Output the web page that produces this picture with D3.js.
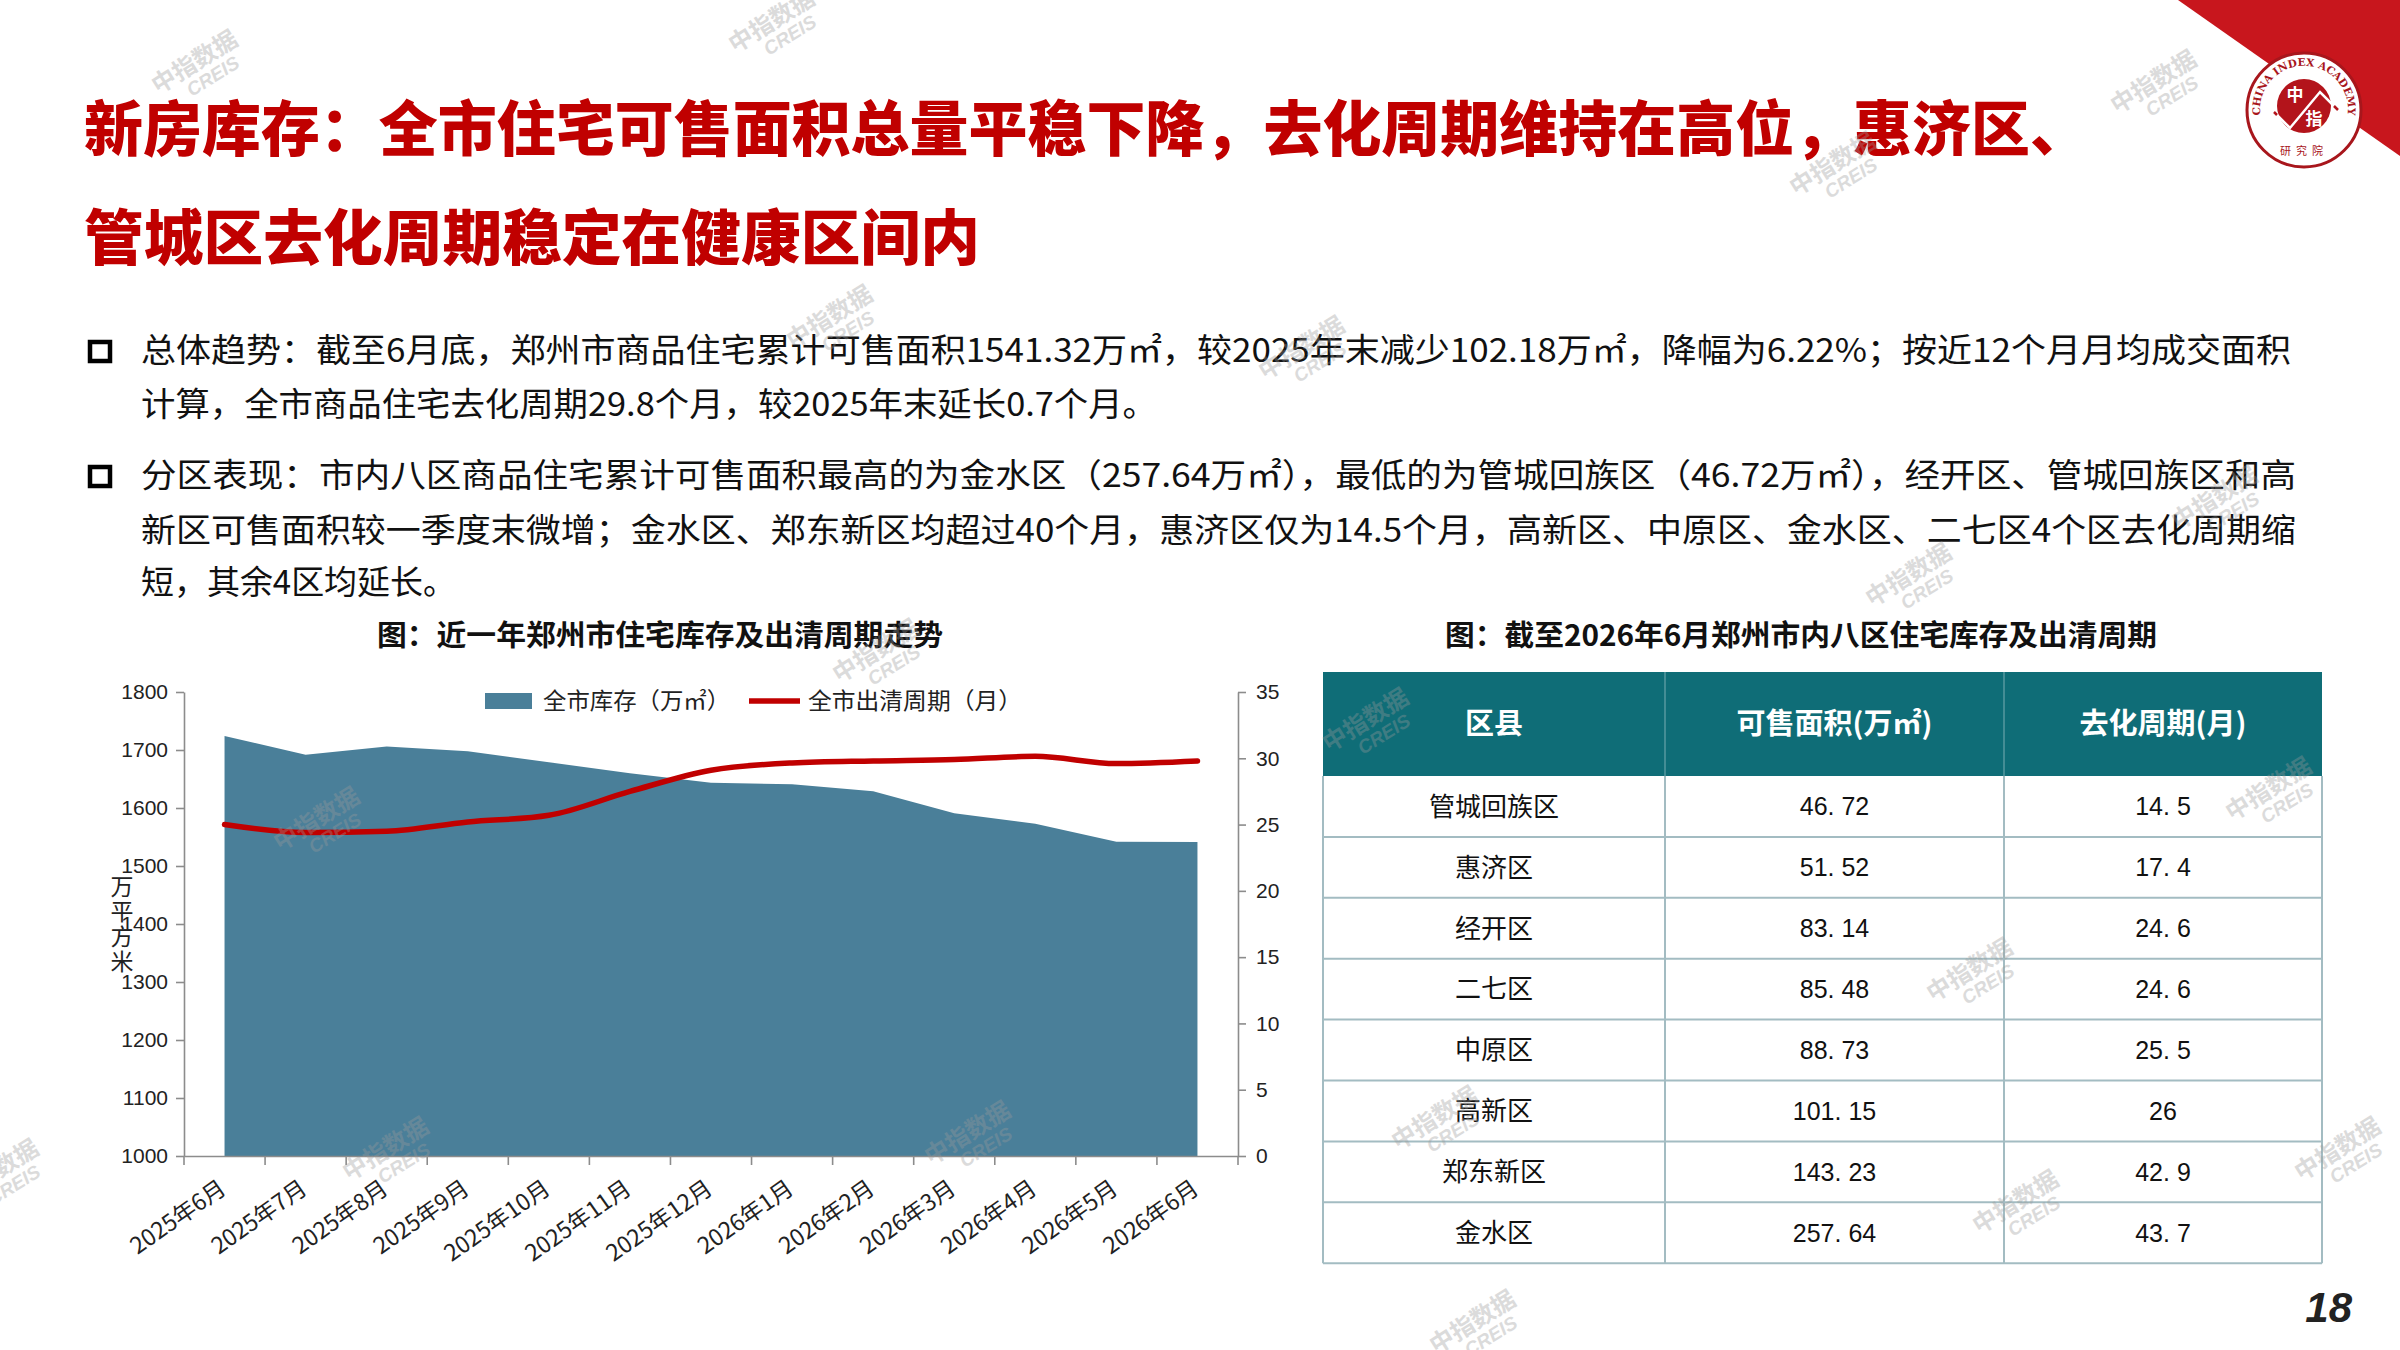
<!DOCTYPE html>
<html>
<head>
<meta charset="utf-8">
<script src="https://cdn.jsdelivr.net/npm/d3@7"></script>
<style>
  body { margin: 0; background: #fff; }
  svg { display: block; }
  .cjk { font-family: "Noto Sans CJK SC", "Noto Sans", sans-serif; }
  .num { font-family: "Liberation Sans", Arial, sans-serif; }
</style>
</head>
<body>
<div id="page"></div>
<script>
// DATA
var months = ['2025年6月', '2025年7月', '2025年8月', '2025年9月', '2025年10月', '2025年11月', '2025年12月',
  '2026年1月', '2026年2月', '2026年3月', '2026年4月', '2026年5月', '2026年6月'];
var stock = [1724, 1692, 1706, 1698, 1679, 1660, 1643.5, 1641, 1629, 1591, 1573, 1542, 1541.32];
var cycle = [25.0, 24.4, 24.5, 25.2, 25.7, 27.5, 29.1, 29.65, 29.8, 29.9, 30.15, 29.6, 29.8];
var leftTicks = [1000, 1100, 1200, 1300, 1400, 1500, 1600, 1700, 1800];
var rightTicks = [0, 5, 10, 15, 20, 25, 30, 35];

var districts = ['管城回族区', '惠济区', '经开区', '二七区', '中原区', '高新区', '郑东新区', '金水区'];
var areaVals = [46.72, 51.52, 83.14, 85.48, 88.73, 101.15, 143.23, 257.64];
var cycleVals = ['14.5', '17.4', '24.6', '24.6', '25.5', '26', '42.9', '43.7'];
var tableHead = ['区县', '可售面积(万㎡)', '去化周期(月)'];

var titleLines = ['新房库存：全市住宅可售面积总量平稳下降，去化周期维持在高位，惠济区、',
  '管城区去化周期稳定在健康区间内'];
var bodyLines = [
  {t: '总体趋势：截至6月底，郑州市商品住宅累计可售面积1541.32万㎡，较2025年末减少102.18万㎡，降幅为6.22%；按近12个月月均成交面积', y: 362, w: 2150, bullet: true},
  {t: '计算，全市商品住宅去化周期29.8个月，较2025年末延长0.7个月。', y: 416, w: 1016},
  {t: '分区表现：市内八区商品住宅累计可售面积最高的为金水区（257.64万㎡），最低的为管城回族区（46.72万㎡），经开区、管城回族区和高', y: 487, w: 2155, bullet: true},
  {t: '新区可售面积较一季度末微增；金水区、郑东新区均超过40个月，惠济区仅为14.5个月，高新区、中原区、金水区、二七区4个区去化周期缩', y: 542, w: 2155},
  {t: '短，其余4区均延长。', y: 594, w: 315}
];

// watermark spots (decoration)
var marks = [[199,69],[776,28],[834,324],[1306,355],[1837,171],[2158,89],[1913,582],[2219,505],
  [321,826],[880,658],[1370,727],[2273,796],[1974,977],[390,1156],[972,1140],[1439,1125],
  [2020,1209],[2342,1156],[1477,1329],[0,1178]];

var W = 2400, H = 1350;
var svg = d3.select('#page').append('svg').attr('width', W).attr('height', H);

// corner wedge + logo
svg.append('path').attr('d', 'M2178,0 L2400,0 L2400,156 Z').attr('fill', '#C8161D');
var logo = svg.append('g').attr('transform', 'translate(2304,110)');
logo.append('circle').attr('r', 57).attr('fill', '#fff').attr('stroke', '#A8161C').attr('stroke-width', 3);
logo.append('circle').attr('cy', -4).attr('r', 27).attr('fill', '#B3141B');
logo.append('defs').append('path').attr('id', 'ring')
  .attr('d', 'M-38,22 A44,44 0 1,1 38,22');
logo.append('text').attr('font-family', 'DejaVu Serif, serif').attr('font-size', 10.5).attr('font-weight', 'bold')
  .attr('fill', '#A8161C')
  .append('textPath').attr('href', '#ring').attr('startOffset', '50%').attr('text-anchor', 'middle')
  .text('CHINA INDEX ACADEMY');
logo.append('text').attr('class', 'cjk').attr('x', -9).attr('y', -9).attr('font-size', 17).attr('font-weight', 'bold')
  .attr('fill', '#fff').attr('text-anchor', 'middle').text('中');
logo.append('text').attr('class', 'cjk').attr('x', 10).attr('y', 15).attr('font-size', 17).attr('font-weight', 'bold')
  .attr('fill', '#fff').attr('text-anchor', 'middle').text('指');
logo.append('path').attr('d', 'M-30,2 L-14,18 L16,-18 L34,0').attr('fill', 'none').attr('stroke', '#fff').attr('stroke-width', 2.5);
logo.append('path').attr('d', 'M-30,2 L-27,5 M30,-4 L34,0').attr('fill', 'none').attr('stroke', '#B3141B').attr('stroke-width', 2.5);
logo.append('text').attr('class', 'cjk').attr('y', 45).attr('font-size', 11).attr('fill', '#A8161C')
  .attr('text-anchor', 'middle').attr('letter-spacing', 5).text('研究院');

// title
svg.selectAll('.title').data(titleLines).enter().append('text')
  .attr('class', 'cjk title')
  .attr('x', 84).attr('y', function(d, i) { return i === 0 ? 151 : 260; })
  .attr('font-size', 60).attr('font-weight', 900).attr('fill', '#C00000')
  .attr('textLength', function(d, i) { return i === 0 ? 2005 : 896; })
  .attr('lengthAdjust', 'spacingAndGlyphs')
  .text(function(d) { return d; });

// body text
svg.selectAll('.body').data(bodyLines).enter().append('text')
  .attr('class', 'cjk body')
  .attr('x', 141).attr('y', function(d) { return d.y; })
  .attr('font-size', 33).attr('fill', '#111')
  .attr('textLength', function(d) { return d.w; })
  .attr('lengthAdjust', 'spacingAndGlyphs')
  .text(function(d) { return d.t; });
svg.selectAll('.bullet').data(bodyLines.filter(function(d) { return d.bullet; })).enter().append('rect')
  .attr('x', 90).attr('y', function(d) { return d.y - 20; })
  .attr('width', 20).attr('height', 19)
  .attr('fill', 'none').attr('stroke', '#000').attr('stroke-width', 4.5);

// LEFT CHART
var pL = 184, pR = 1238, pT = 692, pB = 1156;
var x = d3.scaleBand().domain(months).range([pL, pR]);
var yL = d3.scaleLinear().domain([1000, 1800]).range([pB, pT]);
var yR = d3.scaleLinear().domain([0, 35]).range([pB, pT]);
var cx = function(d, i) { return x(months[i]) + x.bandwidth() / 2; };

svg.append('text').attr('class', 'cjk').attr('x', 377).attr('y', 646)
  .attr('font-size', 29).attr('font-weight', 'bold').attr('fill', '#111')
  .attr('textLength', 566).attr('lengthAdjust', 'spacingAndGlyphs')
  .text('图：近一年郑州市住宅库存及出清周期走势');

svg.append('path').datum(stock)
  .attr('fill', '#4A7F99')
  .attr('d', d3.area().x(cx).y0(pB).y1(function(d) { return yL(d); }));

svg.append('path').datum(cycle)
  .attr('fill', 'none').attr('stroke', '#C00000').attr('stroke-width', 5.5).attr('stroke-linecap', 'round')
  .attr('d', d3.line().x(cx).y(function(d) { return yR(d); }).curve(d3.curveMonotoneX));

var axisStyle = function(g) {
  g.selectAll('path, line').attr('stroke', '#8c8c8c').attr('stroke-width', 1.6);
  g.selectAll('text').attr('class', 'num').attr('font-size', 21).attr('fill', '#222');
};
svg.append('g').attr('transform', 'translate(' + pL + ',0)')
  .call(d3.axisLeft(yL).tickValues(leftTicks).tickSize(8).tickSizeOuter(0).tickPadding(8).tickFormat(d3.format('d')))
  .call(axisStyle);
svg.append('g').attr('transform', 'translate(' + pR + ',0)')
  .call(d3.axisRight(yR).tickValues(rightTicks).tickSize(8).tickSizeOuter(0).tickPadding(10))
  .call(axisStyle);
var xAxis = svg.append('g').attr('transform', 'translate(0,' + pB + ')')
  .call(d3.axisBottom(x).tickSize(0).tickSizeOuter(0).tickFormat(''))
  .call(axisStyle);
// ticks at band edges
xAxis.selectAll('.tick').remove();
xAxis.selectAll('.edge').data(months.concat(['end'])).enter().append('line')
  .attr('x1', function(d, i) { return pL + i * x.bandwidth(); })
  .attr('x2', function(d, i) { return pL + i * x.bandwidth(); })
  .attr('y1', 0).attr('y2', 9).attr('stroke', '#8c8c8c').attr('stroke-width', 1.6);
svg.selectAll('.xl').data(months).enter().append('text')
  .attr('class', 'cjk xl')
  .attr('transform', function(d, i) { return 'translate(' + (cx(d, i) + 3) + ',' + (pB + 36) + ') rotate(-35)'; })
  .attr('text-anchor', 'end')
  .attr('font-size', 23).attr('fill', '#222')
  .text(function(d) { return d; });

// y unit label stacked
svg.selectAll('.unit').data('万平方米'.split('')).enter().append('text')
  .attr('class', 'cjk unit').attr('x', 122).attr('y', function(d, i) { return 895 + i * 25; })
  .attr('text-anchor', 'middle').attr('font-size', 23).attr('fill', '#222')
  .text(function(d) { return d; });

// legend
var lg = svg.append('g').attr('class', 'cjk').attr('font-size', 23).attr('fill', '#222');
lg.append('rect').attr('x', 485).attr('y', 693).attr('width', 47).attr('height', 16).attr('fill', '#4A7F99');
lg.append('text').attr('x', 543).attr('y', 709).attr('textLength', 187).attr('lengthAdjust', 'spacingAndGlyphs')
  .text('全市库存（万㎡）');
lg.append('line').attr('x1', 749).attr('x2', 800).attr('y1', 701).attr('y2', 701)
  .attr('stroke', '#C00000').attr('stroke-width', 5.5);
lg.append('text').attr('x', 808).attr('y', 709).attr('textLength', 214).attr('lengthAdjust', 'spacingAndGlyphs')
  .text('全市出清周期（月）');

// TABLE
svg.append('text').attr('class', 'cjk').attr('x', 1445).attr('y', 646)
  .attr('font-size', 29).attr('font-weight', 'bold').attr('fill', '#111')
  .attr('textLength', 712).attr('lengthAdjust', 'spacingAndGlyphs')
  .text('图：截至2026年6月郑州市内八区住宅库存及出清周期');

var colW = [342, 339, 318];
var colX = [1323, 1665, 2004, 2322];
var headTop = 672, headH = 104, rowH = 60.9;
var rowY = d3.scaleBand().domain(d3.range(districts.length)).range([headTop + headH, headTop + headH + rowH * districts.length]);

svg.append('rect').attr('x', colX[0]).attr('y', headTop).attr('width', colX[3] - colX[0]).attr('height', headH)
  .attr('fill', '#0F6D77');
svg.selectAll('.hd').data(tableHead).enter().append('text')
  .attr('class', 'cjk hd')
  .attr('x', function(d, i) { return colX[i] + colW[i] / 2; })
  .attr('y', headTop + headH / 2).attr('dy', '0.36em')
  .attr('text-anchor', 'middle').attr('font-size', 29).attr('font-weight', 'bold').attr('fill', '#fff')
  .text(function(d) { return d; });
svg.selectAll('.hdiv').data([1, 2]).enter().append('line')
  .attr('x1', function(d) { return colX[d]; }).attr('x2', function(d) { return colX[d]; })
  .attr('y1', headTop).attr('y2', headTop + headH)
  .attr('stroke', '#ffffff').attr('stroke-opacity', 0.3).attr('stroke-width', 1.5);

var rows = svg.selectAll('.row').data(districts).enter().append('g')
  .attr('transform', function(d, i) { return 'translate(0,' + rowY(i) + ')'; });
rows.append('line').attr('x1', colX[0]).attr('x2', colX[3]).attr('y1', rowH).attr('y2', rowH)
  .attr('stroke', '#A3BCC2').attr('stroke-width', 2);
rows.append('text').attr('class', 'cjk').attr('x', colX[0] + colW[0] / 2).attr('y', rowH / 2).attr('dy', '0.36em')
  .attr('text-anchor', 'middle').attr('font-size', 26).attr('fill', '#111')
  .text(function(d) { return d; });
rows.append('text').attr('class', 'num').attr('x', colX[1] + colW[1] / 2).attr('y', rowH / 2).attr('dy', '0.36em')
  .attr('text-anchor', 'middle').attr('font-size', 25).attr('fill', '#111')
  .text(function(d, i) { return d3.format('.2f')(areaVals[i]).replace('.', '. '); });
rows.append('text').attr('class', 'num').attr('x', colX[2] + colW[2] / 2).attr('y', rowH / 2).attr('dy', '0.36em')
  .attr('text-anchor', 'middle').attr('font-size', 25).attr('fill', '#111')
  .text(function(d, i) { return cycleVals[i].replace('.', '. '); });

var tBottom = headTop + headH + rowH * districts.length;
svg.selectAll('.vdiv').data([0, 1, 2, 3]).enter().append('line')
  .attr('x1', function(d) { return colX[d]; }).attr('x2', function(d) { return colX[d]; })
  .attr('y1', headTop + headH).attr('y2', tBottom)
  .attr('stroke', '#A3BCC2').attr('stroke-width', 2);

// page number
svg.append('text').attr('class', 'num').attr('x', 2352).attr('y', 1322).attr('text-anchor', 'end')
  .attr('font-size', 42).attr('font-weight', 'bold').attr('font-style', 'italic').attr('fill', '#222')
  .text('18');

// watermarks
var wm = svg.selectAll('.wm').data(marks).enter().append('g')
  .attr('transform', function(d) { return 'translate(' + d[0] + ',' + d[1] + ') rotate(-32)'; })
  .attr('opacity', 0.35).attr('fill', '#9a9a9a');
wm.append('text').attr('class', 'cjk').attr('text-anchor', 'middle').attr('font-size', 24).attr('font-weight', 'bold')
  .text('中指数据');
wm.append('text').attr('class', 'num').attr('x', 8).attr('y', 20).attr('text-anchor', 'middle')
  .attr('font-size', 19).attr('font-weight', 'bold').attr('font-style', 'italic').text('CREIS');
</script>
</body>
</html>
